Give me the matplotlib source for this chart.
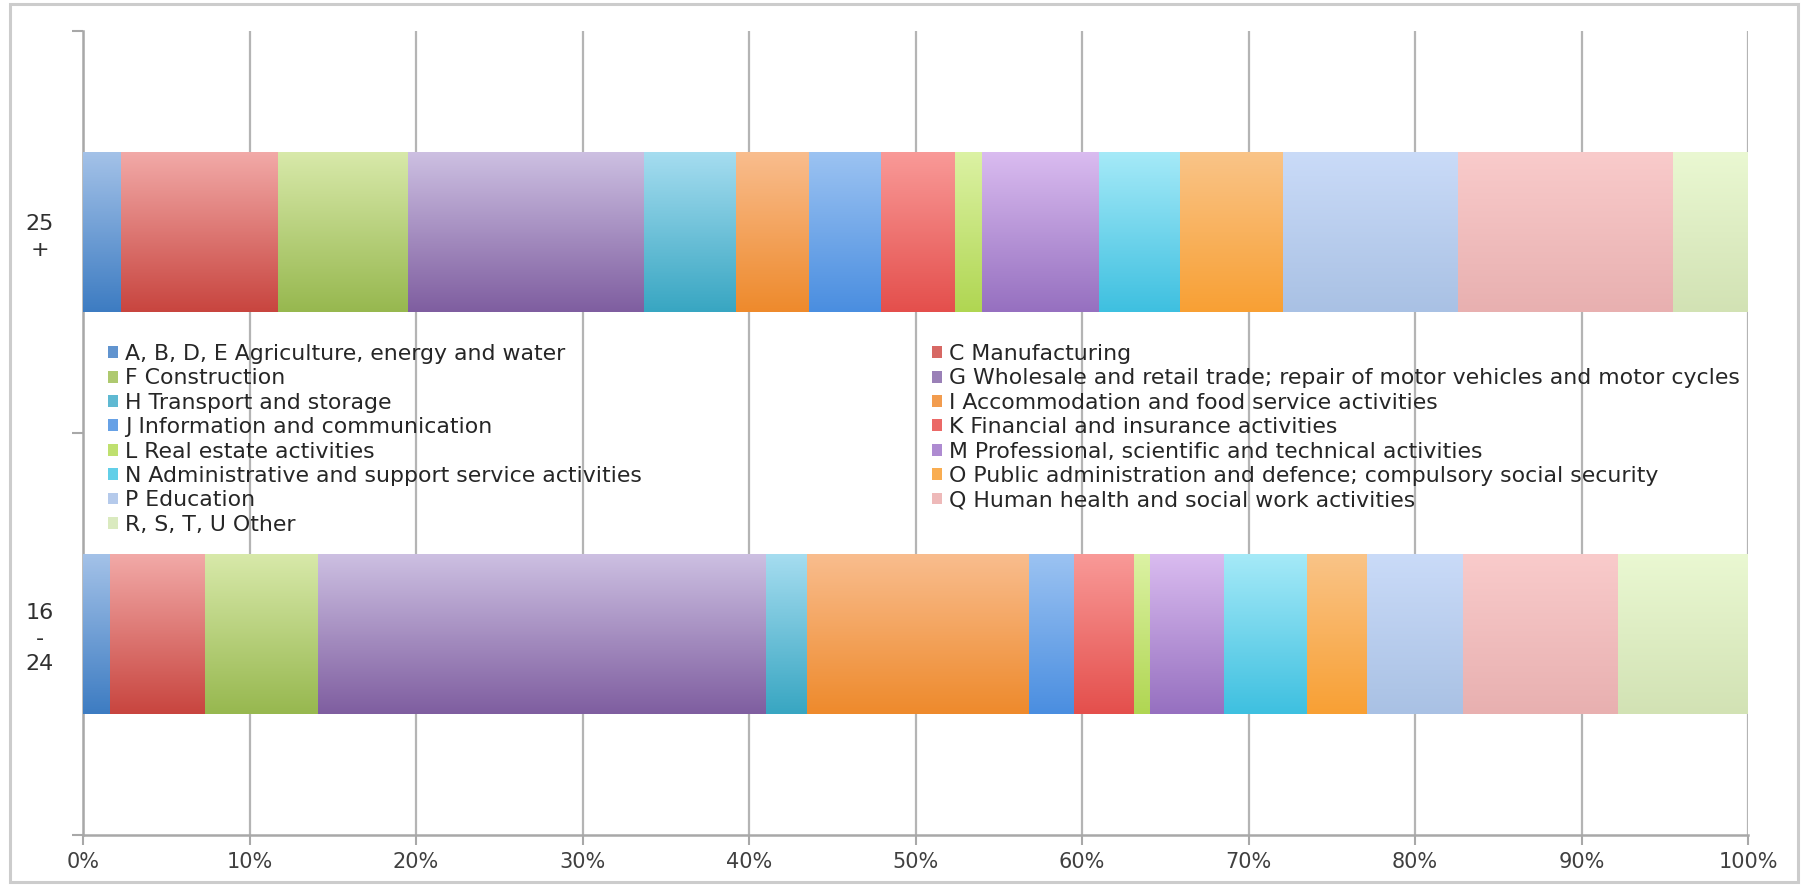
import matplotlib
matplotlib.use("Agg")
import matplotlib.pyplot as plt
import numpy as np
from matplotlib.colors import to_rgb, LinearSegmentedColormap
from matplotlib.patches import Rectangle

plt.rcParams['font.family'] = ['DejaVu Sans']

categories = ["16\n-\n24", "25\n+"]
sectors = [
    "A, B, D, E Agriculture, energy and water",
    "C Manufacturing",
    "F Construction",
    "G Wholesale and retail trade; repair of motor vehicles and motor cycles",
    "H Transport and storage",
    "I Accommodation and food service activities",
    "J Information and communication",
    "K Financial and insurance activities",
    "L Real estate activities",
    "M Professional, scientific and technical activities",
    "N Administrative and support service activities",
    "O Public administration and defence; compulsory social security",
    "P Education",
    "Q Human health and social work activities",
    "R, S, T, U Other",
]
share_16_24 = [1.6, 5.7, 6.8, 26.9, 2.5, 13.3, 2.7, 3.6, 1.0, 4.4, 5.0, 3.6, 5.8, 9.3, 7.8]
share_25_plus = [2.3, 9.4, 7.8, 14.2, 5.5, 4.4, 4.3, 4.5, 1.6, 7.0, 4.9, 6.2, 10.5, 12.9, 4.5]
xticklabels = ["0%", "10%", "20%", "30%", "40%", "50%", "60%", "70%", "80%", "90%", "100%"]

grad_top = ["#a4c2e8", "#f2aaa8", "#d8e9aa", "#cdc0e2", "#a6ddf0", "#f9bd8e", "#9cc3f2", "#f99a98",
            "#dcf2a4", "#dabcf0", "#a6eaf8", "#fac488", "#cadbf8", "#f9cbcb", "#eaf8d2"]
grad_bot = ["#3d7cc2", "#c8453f", "#97b84f", "#7f5ea0", "#38a6c2", "#ee8a2c", "#4a8ee0", "#e44f4c",
            "#b0d652", "#9670c0", "#3ec0e0", "#f8a034", "#a9c1e4", "#e8b0b0", "#d2e2b4"]

W, H = 1802, 886
fig = plt.figure(figsize=(W / 100, H / 100), dpi=100)
ax = fig.add_axes([83 / W, 1 - 835 / H, (1748 - 83) / W, (835 - 31) / H])

data = np.array([share_16_24, share_25_plus], dtype=float)
data = data / data.sum(axis=1, keepdims=True)
ypos = np.arange(len(categories))
left = np.zeros(len(categories))
handles = []
for i, name in enumerate(sectors):
    c1, c2 = np.array(to_rgb(grad_top[i])), np.array(to_rgb(grad_bot[i]))
    mid = tuple(0.35 * c1 + 0.65 * c2)
    bars = ax.barh(ypos, data[:, i], left=left, height=0.4, color=mid,
                   edgecolor='none', label=name, zorder=3)
    cmap = LinearSegmentedColormap.from_list("g%d" % i, [c2, c1])
    grad = np.linspace(0, 1, 128).reshape(-1, 1)
    for p in bars.patches:
        x0, y0, w, h = p.get_x(), p.get_y(), p.get_width(), p.get_height()
        im = ax.imshow(grad, cmap=cmap, origin='lower', aspect='auto',
                       extent=(x0, x0 + w, y0, y0 + h), zorder=4, interpolation='bilinear')
        im.set_clip_path(p)
    handles.append(bars)
    left += data[:, i]

ax.set_xlim(0, 1)
ax.set_ylim(-0.5, 1.5)
ax.set_xticks(np.linspace(0, 1, 11))
ax.set_xticklabels(xticklabels)
ax.set_yticks(ypos)
ax.set_yticklabels(categories, multialignment='center', linespacing=1.35)
ax.set_yticks([-0.5, 0.5, 1.5], minor=True)
ax.tick_params(axis='y', which='major', length=0, pad=21, labelsize=16, labelcolor='#303030')
ax.tick_params(axis='y', which='minor', length=8, width=1.5, color='#a8a8a8', direction='out')
ax.tick_params(axis='x', which='major', length=7, width=1.5, color='#a8a8a8', pad=5,
               labelsize=15, labelcolor='#404040')
ax.grid(axis='x', color='#b4b4b4', linewidth=1.6, zorder=0)
ax.set_axisbelow(True)
for s in ['top', 'right']:
    ax.spines[s].set_visible(False)
for s in ['left', 'bottom']:
    ax.spines[s].set_color('#a8a8a8')
    ax.spines[s].set_linewidth(1.8)

order_left = [0, 2, 4, 6, 8, 10, 12, 14]
order_right = [1, 3, 5, 7, 9, 11, 13]
common = dict(frameon=False, fontsize=15.8, handlelength=0.46, handleheight=0.46,
              handletextpad=0.3, labelspacing=0.2, borderpad=0, borderaxespad=0,
              loc='upper left', bbox_transform=fig.transFigure, labelcolor='#262626')
leg1 = ax.legend([handles[i] for i in order_left], [sectors[i] for i in order_left],
                 bbox_to_anchor=(108 / W, 1 - 344 / H), **common)
ax.add_artist(leg1)
leg2 = ax.legend([handles[i] for i in order_right], [sectors[i] for i in order_right],
                 bbox_to_anchor=(932 / W, 1 - 344 / H), **common)
for lg in (leg1, leg2):
    lg.set_zorder(6)

fig.patches.append(Rectangle((10 / W, 4 / H), (1798 - 10) / W, (882 - 4) / H,
                             transform=fig.transFigure, fill=False,
                             edgecolor='#cccccc', linewidth=2.2))

fig.savefig("out.png", dpi=100)
